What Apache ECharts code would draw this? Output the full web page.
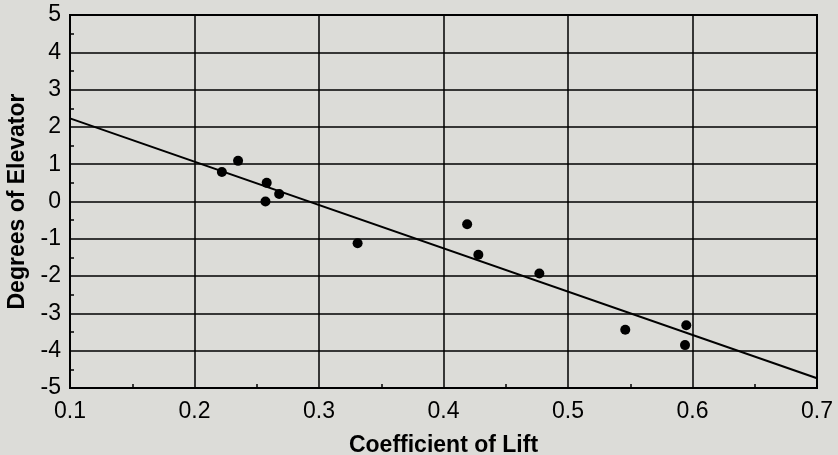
<!DOCTYPE html>
<html>
<head>
<meta charset="utf-8">
<script src="https://cdn.jsdelivr.net/npm/echarts@6/dist/echarts.min.js"></script>
<style>
html,body{margin:0;padding:0;background:#dcdcd8;}
#c{width:838px;height:455px;}
</style>
</head>
<body>
<div id="c"></div>
<script>
// Measured data points (Coefficient of Lift, Degrees of Elevator)
var liftCoeff = [0.222, 0.235, 0.258, 0.268, 0.257, 0.331, 0.419, 0.428, 0.477, 0.546, 0.595, 0.594];
var elevatorDeg = [0.79, 1.09, 0.50, 0.20, 0.00, -1.12, -0.61, -1.43, -1.93, -3.44, -3.32, -3.85];
// Trend line endpoints
var trendX = [0.1, 0.7];
var trendY = [2.23, -4.74];

var xTitle = 'Coefficient of Lift';
var yTitle = 'Degrees of Elevator';

var scatterData = liftCoeff.map(function (x, i) { return [x, elevatorDeg[i]]; });
var lineData = trendX.map(function (x, i) { return [x, trendY[i]]; });

var chart = echarts.init(document.getElementById('c'));
var fontFam = '"Liberation Sans", Arial, sans-serif';
chart.setOption({
  backgroundColor: '#dcdcd8',
  animation: false,
  grid: {
    left: 70, right: 21, top: 15, bottom: 67,
    containLabel: false, outerBoundsMode: 'none',
    show: true, borderColor: '#000', borderWidth: 2, backgroundColor: '#dcdcd8'
  },
  xAxis: {
    type: 'value', min: 0.1, max: 0.7, interval: 0.1,
    name: xTitle, nameLocation: 'middle', nameGap: 46,
    nameTextStyle: { fontFamily: fontFam, fontWeight: 'bold', fontSize: 23, color: '#000' },
    axisLine: { show: true, onZero: false, lineStyle: { color: '#000', width: 2 } },
    axisTick: { show: false, inside: true },
    minorTick: { show: true, splitNumber: 2, length: 4, lineStyle: { color: '#000', width: 1.5 } },
    axisLabel: { fontFamily: fontFam, fontSize: 23, color: '#000', margin: 12,
      formatter: function (v) { return v.toFixed(1); } },
    splitLine: { show: true, lineStyle: { color: '#000', width: 1.5 } }
  },
  yAxis: {
    type: 'value', min: -5, max: 5, interval: 1,
    name: yTitle, nameLocation: 'middle', nameGap: 41,
    nameTextStyle: { fontFamily: fontFam, fontWeight: 'bold', fontSize: 23, color: '#000' },
    axisLine: { show: true, onZero: false, lineStyle: { color: '#000', width: 2 } },
    axisTick: { show: false, inside: true },
    minorTick: { show: true, splitNumber: 2, length: 4, lineStyle: { color: '#000', width: 1.5 } },
    axisLabel: { fontFamily: fontFam, fontSize: 23, color: '#000', margin: 9 },
    splitLine: { show: true, lineStyle: { color: '#000', width: 1.5 } }
  },
  series: [
    {
      type: 'line', data: lineData, symbol: 'none',
      lineStyle: { color: '#000', width: 2 }, z: 3
    },
    {
      type: 'scatter', data: scatterData, symbol: 'circle', symbolSize: 10,
      itemStyle: { color: '#000', opacity: 1 }, z: 4
    }
  ]
});
</script>
</body>
</html>
